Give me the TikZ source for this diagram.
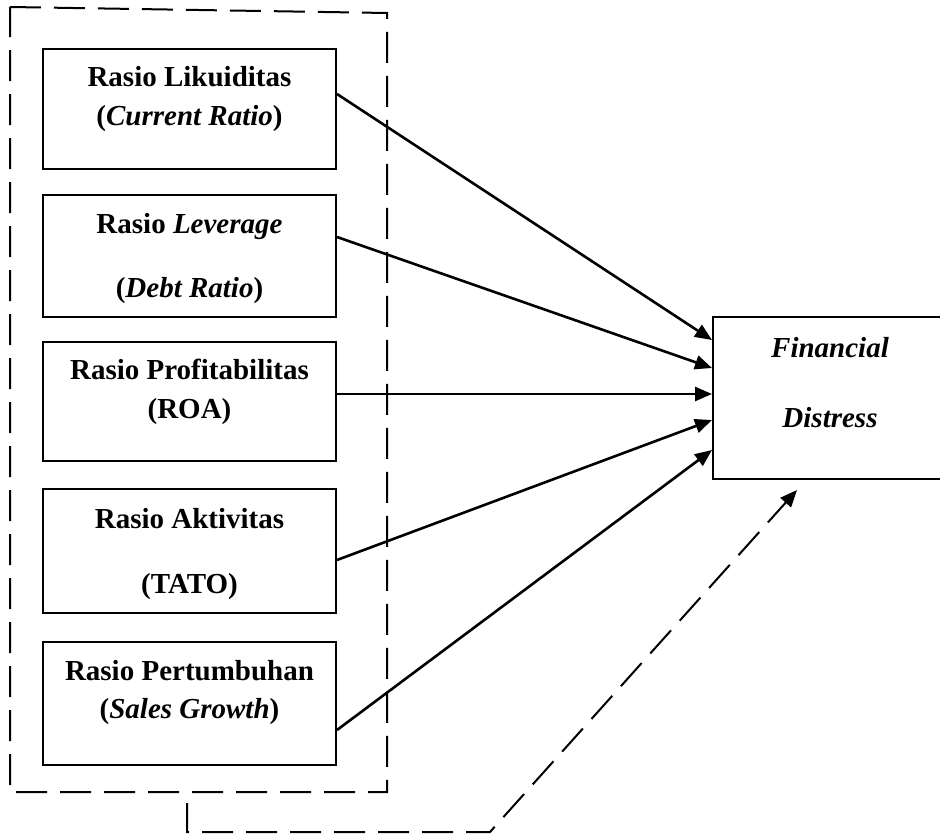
\documentclass[tikz,border=0pt]{standalone}
\usepackage{fontspec}
\setmainfont{Liberation Serif}
\usetikzlibrary{arrows.meta}
\begin{document}
\begin{tikzpicture}[x=1pt,y=-1pt,
  varbox/.style={draw,line width=2pt,minimum width=293pt,inner sep=0pt},
  txt/.style={anchor=base,inner sep=0pt,font=\fontsize{29}{34}\selectfont\bfseries},
  tip/.style={-{Triangle[length=17pt,width=14pt]}},
  arr/.style={line width=2.6pt,tip},
  dashline/.style={line width=2pt,dash pattern=on 31pt off 13pt}]
\useasboundingbox (0,0) rectangle (940,834);
% boxes
\node[varbox,minimum height=120pt] (b1) at (189.5,109) {};
\node[varbox,minimum height=122pt] (b2) at (189.5,256) {};
\node[varbox,minimum height=119pt] (b3) at (189.5,401.5) {};
\node[varbox,minimum height=124pt] (b4) at (189.5,551) {};
\node[varbox,minimum height=123pt] (b5) at (189.5,703.5) {};
\node[draw,line width=2pt,minimum width=240pt,minimum height=162pt,inner sep=0pt] (f) at (833,398) {};
% texts
\node[txt] (t1a) at (189.5,87) {Rasio Likuiditas};
\node[txt] (t1b) at (189.5,126) {(\textit{Current Ratio})};
\node[txt] (t2a) at (189.5,234) {Rasio \textit{Leverage}};
\node[txt] (t2b) at (189.5,298) {(\textit{Debt Ratio})};
\node[txt] (t3a) at (189.5,380) {Rasio Profitabilitas};
\node[txt] (t3b) at (189.5,418) {(ROA)};
\node[txt] (t4a) at (189.5,528) {Rasio Aktivitas};
\node[txt] (t4b) at (189.5,593) {(TATO)};
\node[txt] (t5a) at (189.5,680) {Rasio Pertumbuhan};
\node[txt] (t5b) at (189.5,718) {(\textit{Sales Growth})};
\node[txt] (fa) at (830,357) {\textit{Financial}};
\node[txt] (fb) at (830,427) {\textit{Distress}};
% arrows
\draw[arr] ([yshift=15pt]b1.east) -- ([yshift=58pt]f.west);
\draw[arr] ([yshift=19pt]b2.east) -- ([yshift=30pt]f.west);
\draw[arr] ([yshift=7.5pt]b3.east) -- ([yshift=4pt]f.west);
\draw[arr] ([yshift=-9pt]b4.east) -- ([yshift=-22pt]f.west);
\draw[arr] ([yshift=-26.5pt]b5.east) -- ([yshift=-52pt]f.west);
% dashed group
\draw[dashline] (10,7) -- (387,13) -- (387,792) -- (10,792) -- cycle;
\coordinate (ds) at (187,803);
\coordinate (dc1) at (187,832);
\coordinate (dc2) at (490,832);
\coordinate (de) at (797,490);
\draw[dashline,tip] (ds) -- (dc1) -- (dc2) -- (de);
\end{tikzpicture}
\end{document}
